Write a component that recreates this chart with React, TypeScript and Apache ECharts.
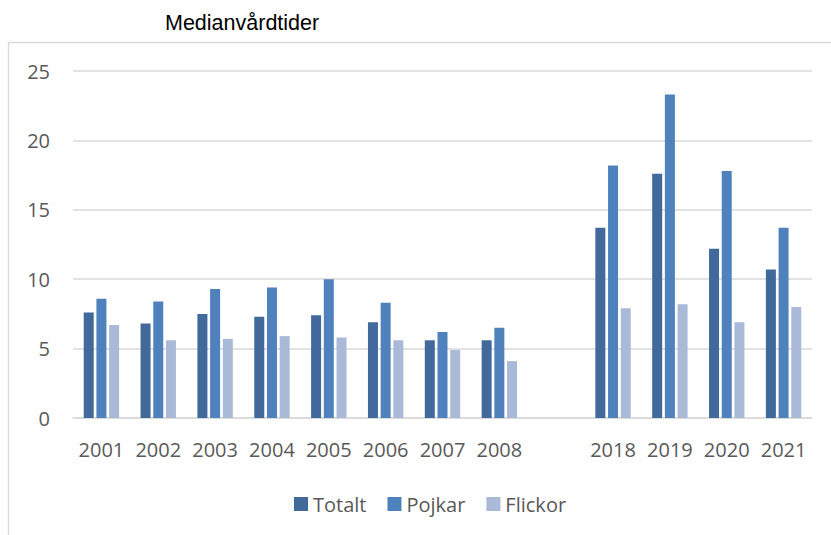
import React, { useEffect, useRef } from "react";
import * as echarts from "echarts";

const categories = ["2001", "2002", "2003", "2004", "2005", "2006", "2007", "2008", "", "2018", "2019", "2020", "2021"];
const totalt = [7.6, 6.8, 7.5, 7.3, 7.4, 6.9, 5.6, 5.6, null, 13.7, 17.6, 12.2, 10.7];
const pojkar = [8.6, 8.4, 9.3, 9.4, 10.0, 8.3, 6.2, 6.5, null, 18.2, 23.3, 17.8, 13.7];
const flickor = [6.7, 5.6, 5.7, 5.9, 5.8, 5.6, 4.9, 4.1, null, 7.9, 8.2, 6.9, 8.0];
const seriesNames = ["Totalt", "Pojkar", "Flickor"];
const colors = ["#41699c", "#4f81bd", "#aab9d7"];
const titleText = "Medianvårdtider";

export default function App() {
  const ref = useRef<HTMLDivElement>(null);
  useEffect(() => {
    if (!ref.current) return;
    const chart = echarts.init(ref.current, null, { renderer: "svg" });
    const font = "'Open Sans', 'Liberation Sans', sans-serif";
    const data = [totalt, pojkar, flickor];
    chart.setOption({
      animation: false,
      backgroundColor: "#ffffff",
      title: {
        text: titleText,
        left: 160,
        top: 7,
        textStyle: { fontFamily: "'Liberation Sans', sans-serif", fontSize: 21.5, fontWeight: "normal", color: "#000000" },
      },
      graphic: [
        {
          type: "rect",
          shape: { x: 8.5, y: 42.5, width: 900, height: 600 },
          style: { fill: "none", stroke: "#d9d9d9", lineWidth: 1.3 },
          silent: true,
        },
      ],
      legend: {
        data: seriesNames,
        left: 289,
        top: 489,
        itemWidth: 14,
        itemHeight: 14,
        itemGap: 21,
        icon: "rect",
        textStyle: { fontFamily: font, fontSize: 20, color: "#595959", padding: [0, 0, 0, 0] },
      },
      grid: { left: 73, right: 19, top: 71, bottom: 117, containLabel: false },
      xAxis: {
        type: "category",
        data: categories,
        axisLine: { show: true, lineStyle: { color: "#d9d9d9", width: 1.5 } },
        axisTick: { show: false },
        axisLabel: { fontFamily: font, fontSize: 20, color: "#595959", margin: 21, interval: 0 },
      },
      yAxis: {
        type: "value",
        min: 0,
        max: 25,
        interval: 5,
        axisLine: { show: false },
        axisTick: { show: false },
        splitLine: { lineStyle: { color: "#d9d9d9", width: 1.5 } },
        axisLabel: { fontFamily: font, fontSize: 20, color: "#595959", margin: 23 },
      },
      series: seriesNames.map((name, i) => ({
        name,
        type: "bar",
        data: data[i],
        barWidth: 10,
        barGap: "27%",
        itemStyle: { color: colors[i] },
      })),
    });
    return () => chart.dispose();
  }, []);
  return <div ref={ref} style={{ position: "fixed", left: 0, top: 0, width: 831, height: 535 }} />;
}
